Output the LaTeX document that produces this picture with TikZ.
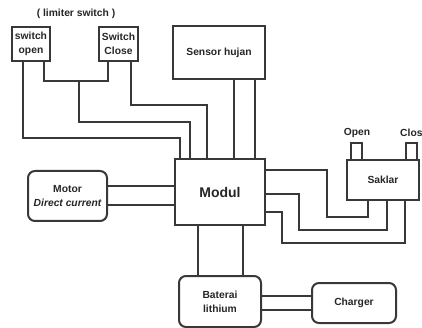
\documentclass[tikz,border=0pt]{standalone}
\usepackage{fontspec}
\setmainfont{Liberation Sans}
\begin{document}
\begin{tikzpicture}[x=1pt,y=-1pt,
  wire/.style={draw=black!78, line width=2pt},
  blk/.style={draw=black!78, line width=2pt, fill=white, inner sep=0pt, align=center,
    font=\fontsize{10.3}{14}\selectfont\bfseries, text=black!85},
  rblk/.style={blk, rounded corners=7pt},
  lbl/.style={inner sep=0pt, font=\fontsize{10.3}{14}\selectfont\bfseries, text=black!85}]
\useasboundingbox (0,0) rectangle (422,328);
\fill[white] (0,0) rectangle (422,328);

% blocks
\node[blk, minimum width=38pt, minimum height=34pt] (so) at (31,44) {switch\\open};
\node[blk, minimum width=39pt, minimum height=34pt] (sc) at (118.5,44) {Switch\\Close};
\node[blk, minimum width=92pt, minimum height=53pt] (sh) at (219,52.5) {Sensor hujan};
\node[blk, minimum width=90pt, minimum height=66pt, font=\fontsize{14}{16}\selectfont\bfseries] (mod) at (220,192) {Modul};
\node[rblk, minimum width=79pt, minimum height=50pt] (mot) at (67.5,196) {Motor\\\itshape Direct current};
\node[blk, minimum width=72pt, minimum height=40pt] (sak) at (383,180) {Saklar};
\node[blk, minimum width=11pt, minimum height=17pt] (sqo) at (356.5,151.5) {};
\node[blk, minimum width=11pt, minimum height=17pt] (sqc) at (411.5,151.5) {};
\node[rblk, minimum width=82pt, minimum height=51pt] (bat) at (220,301.5) {Baterai\\lithium};
\node[rblk, minimum width=84pt, minimum height=40pt] (chg) at (354,303) {Charger};

% labels
\node[lbl] (lim) at (76,14) {( limiter switch )};
\node[lbl] (lo) at (357,133) {Open};
\node[lbl, anchor=west] (lc) at (400,133) {Clos};

% limiter switches to module
\draw[wire] ([xshift=12pt]so.south west) -- ++(0,76) -| ([xshift=6pt]mod.north west);
\draw[wire] ([xshift=-7pt]so.south east) -- ++(0,19) -| ([xshift=10pt]sc.south west);
\coordinate (j) at (79,80);
\draw[wire] (j) -- ++(0,42) -| ([xshift=16pt]mod.north west);
\draw[wire] ([xshift=-8pt]sc.south east) -- ++(0,43) -| ([xshift=33pt]mod.north west);

% sensor
\draw[wire] ([xshift=-32pt]sh.south east) -- ([xshift=-32pt]mod.north east);
\draw[wire] ([xshift=-11pt]sh.south east) -- ([xshift=-11pt]mod.north east);

% motor
\draw[wire] ([yshift=-16pt]mot.north east) -- ([yshift=-28pt]mod.north west);
\draw[wire] ([yshift=-35pt]mot.north east) -- ([yshift=-47pt]mod.north west);

% saklar
\draw[wire] ([yshift=-12pt]mod.north east) -| (327,217) -| ([xshift=22pt]sak.south west);
\draw[wire] ([yshift=-36pt]mod.north east) -| (299,230) -| ([xshift=41pt]sak.south west);
\draw[wire] ([yshift=-54pt]mod.north east) -| (282,243) -| ([xshift=59pt]sak.south west);

% battery
\draw[wire] ([xshift=24pt]mod.south west) -- ([xshift=20pt]bat.north west);
\draw[wire] ([xshift=69pt]mod.south west) -- ([xshift=65pt]bat.north west);

% charger
\draw[wire] ([yshift=-21pt]bat.north east) -- ([yshift=-14pt]chg.north west);
\draw[wire] ([yshift=-35pt]bat.north east) -- ([yshift=-28pt]chg.north west);
\end{tikzpicture}
\end{document}
